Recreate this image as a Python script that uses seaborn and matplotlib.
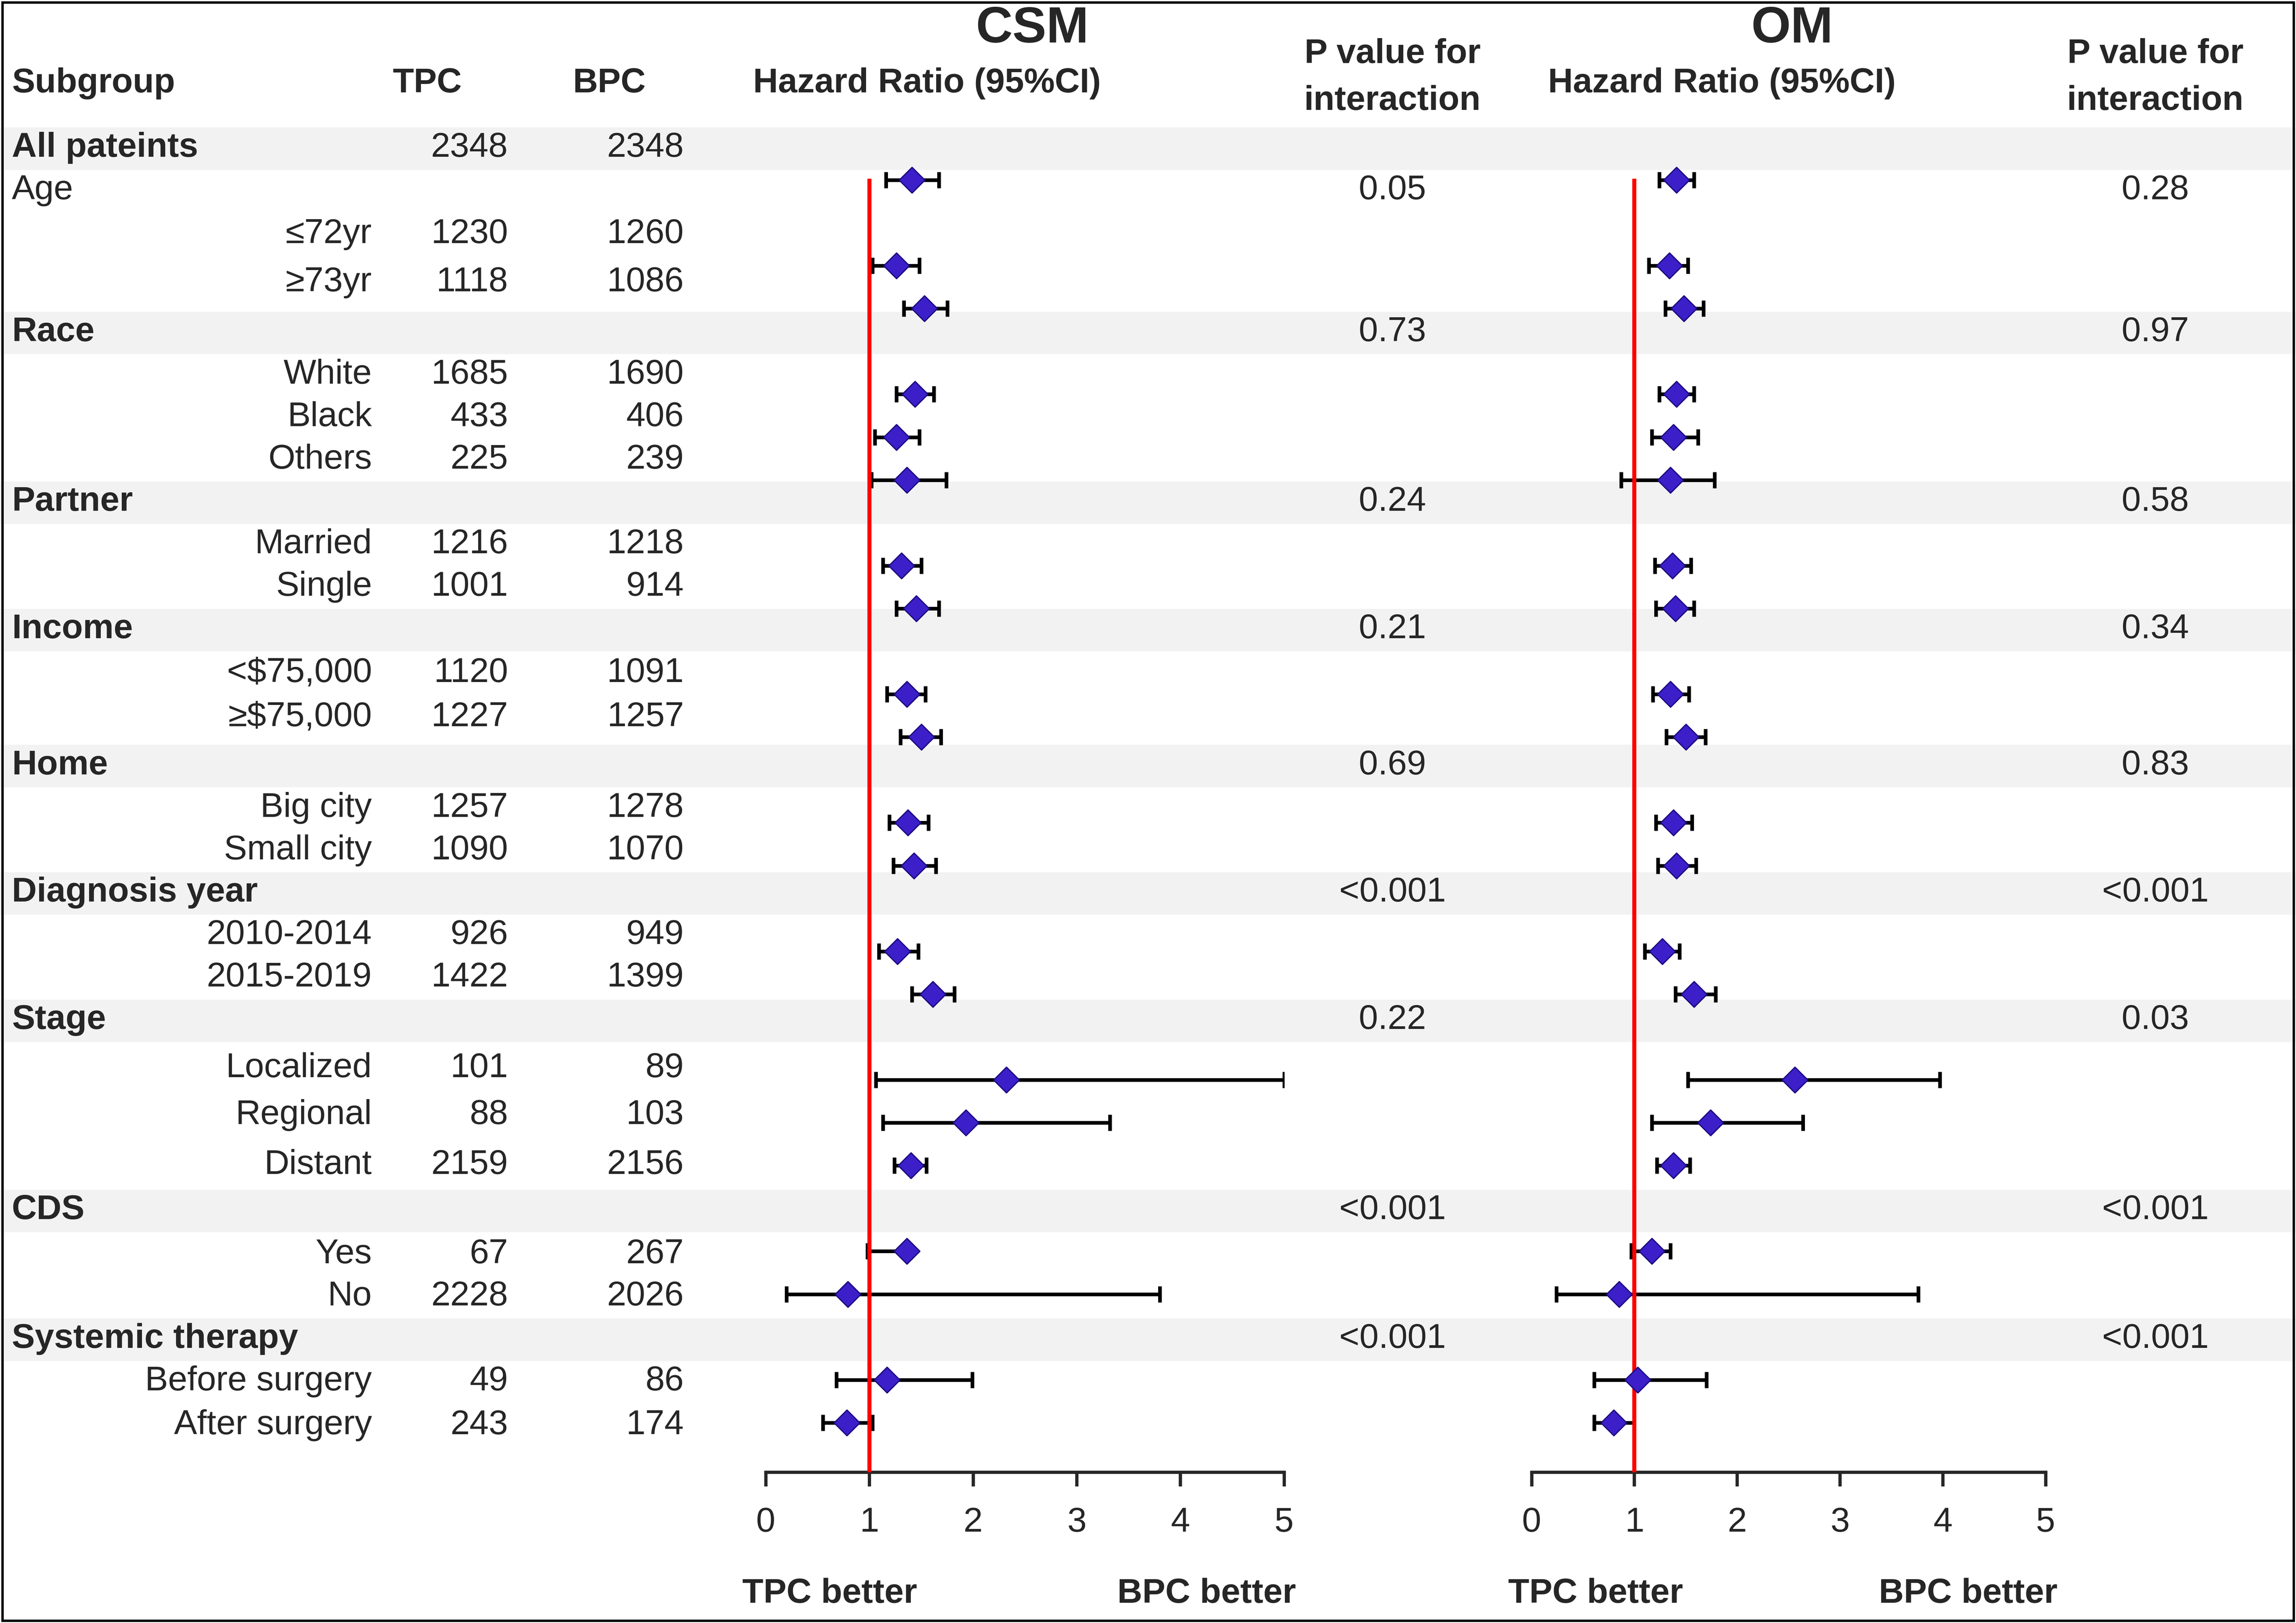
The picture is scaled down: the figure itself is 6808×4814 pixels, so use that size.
import matplotlib
matplotlib.use("Agg")
import matplotlib.pyplot as plt
import numpy as np
import pandas as pd
import seaborn as sns
from matplotlib.patches import Rectangle

sns.set_style("white")
plt.rcParams["font.family"] = ["Liberation Sans", "DejaVu Sans"]

# table rows: (label, is_header, indent, TPC, BPC)
labels = ["All pateints", "Age", "≤72yr", "≥73yr", "Race", "White", "Black", "Others",
          "Partner", "Married", "Single", "Income", "<$75,000", "≥$75,000", "Home",
          "Big city", "Small city", "Diagnosis year", "2010-2014", "2015-2019", "Stage",
          "Localized", "Regional", "Distant", "CDS", "Yes", "No", "Systemic therapy",
          "Before surgery", "After surgery"]
kind = ["head", "plain", "sub", "sub", "head", "sub", "sub", "sub", "head", "sub", "sub",
        "head", "sub", "sub", "head", "sub", "sub", "head", "sub", "sub", "head", "sub",
        "sub", "sub", "head", "sub", "sub", "head", "sub", "sub"]
tpc = ["2348", "", "1230", "1118", "", "1685", "433", "225", "", "1216", "1001", "",
       "1120", "1227", "", "1257", "1090", "", "926", "1422", "", "101", "88", "2159",
       "", "67", "2228", "", "49", "243"]
bpc = ["2348", "", "1260", "1086", "", "1690", "406", "239", "", "1218", "914", "",
       "1091", "1257", "", "1278", "1070", "", "949", "1399", "", "89", "103", "2156",
       "", "267", "2026", "", "86", "174"]
text_y = [101, 130, 160, 193, 227, 256, 285, 314, 343, 372, 401, 430, 460, 490, 523,
          552, 581, 610, 639, 668, 697, 730, 762, 796, 827, 857, 886, 915, 944, 974]

p_rows = ["Age", "Race", "Partner", "Income", "Home", "Diagnosis year", "Stage", "CDS",
          "Systemic therapy"]
p_csm = ["0.05", "0.73", "0.24", "0.21", "0.69", "<0.001", "0.22", "<0.001", "<0.001"]
p_om = ["0.28", "0.97", "0.58", "0.34", "0.83", "<0.001", "0.03", "<0.001", "<0.001"]

# forest rows (index of row where marker sits); headers without markers skipped
hr_rows = [0, 2, 3, 5, 6, 7, 9, 10, 12, 13, 15, 16, 18, 19, 21, 22, 23, 25, 26, 28, 29]
csm_hr = [1.41, 1.26, 1.53, 1.44, 1.26, 1.36, 1.31, 1.45, 1.36, 1.50, 1.37, 1.43, 1.27,
          1.61, 2.32, 1.93, 1.40, 1.36, 0.79, 1.17, 0.78]
csm_lo = [1.16, 1.03, 1.33, 1.26, 1.05, 1.02, 1.13, 1.26, 1.17, 1.30, 1.19, 1.23, 1.09,
          1.41, 1.06, 1.13, 1.24, 0.98, 0.20, 0.68, 0.55]
csm_hi = [1.67, 1.48, 1.75, 1.62, 1.48, 1.74, 1.50, 1.67, 1.54, 1.69, 1.57, 1.64, 1.47,
          1.82, 5.00, 3.32, 1.55, 1.40, 3.80, 1.99, 1.03]
om_hr = [1.41, 1.34, 1.48, 1.41, 1.38, 1.35, 1.37, 1.40, 1.35, 1.50, 1.38, 1.41, 1.27,
         1.58, 2.56, 1.74, 1.38, 1.17, 0.85, 1.03, 0.80]
om_lo = [1.24, 1.14, 1.30, 1.24, 1.17, 0.87, 1.20, 1.21, 1.18, 1.31, 1.21, 1.23, 1.10,
         1.40, 1.52, 1.17, 1.22, 0.97, 0.24, 0.61, 0.61]
om_hi = [1.58, 1.52, 1.67, 1.58, 1.62, 1.78, 1.55, 1.58, 1.53, 1.69, 1.56, 1.60, 1.44,
         1.79, 3.97, 2.64, 1.54, 1.35, 3.76, 1.70, 1.00]

W, H = 1568, 1109
fs = 17
fig = plt.figure(figsize=(6808 / 434, 4814 / 434), dpi=434)
base = fig.add_axes([0, 0, 1, 1])
base.set_xlim(0, W)
base.set_ylim(H, 0)
base.axis("off")
base.add_patch(Rectangle((1.5, 1.5), W - 3, H - 3, fill=False, lw=1.2, ec="black"))

# shaded header bands
for lab, k, y in zip(labels, kind, text_y):
    if k == "head":
        base.add_patch(Rectangle((0, y - 14), W, 29, color="#f2f2f2", zorder=0, lw=0))

# headers
bold = dict(fontweight="bold", fontsize=fs, va="center")
base.text(8, 57, "Subgroup", ha="left", **bold)
base.text(292, 57, "TPC", ha="center", **bold)
base.text(416, 57, "BPC", ha="center", **bold)
for cx, hx, px, title in [(705, 633, 951, "CSM"), (1224, 1176, 1472, "OM")]:
    base.text(cx, 20, title, ha="center", va="center", fontweight="bold", fontsize=25)
    base.text(hx, 57, "Hazard Ratio (95%CI)", ha="center", **bold)
    base.text(px, 37, "P value for", ha="center", **bold)
    base.text(px, 69, "interaction", ha="center", **bold)

# table body
for lab, k, a, b, y in zip(labels, kind, tpc, bpc, text_y):
    if k == "head":
        base.text(8, y, lab, ha="left", va="center", fontsize=fs, fontweight="bold")
    elif k == "plain":
        base.text(8, y, lab, ha="left", va="center", fontsize=fs)
    else:
        base.text(254, y, lab, ha="right", va="center", fontsize=fs)
    base.text(347, y, a, ha="right", va="center", fontsize=fs)
    base.text(467, y, b, ha="right", va="center", fontsize=fs)

for r, a, b in zip(p_rows, p_csm, p_om):
    y = text_y[labels.index(r)]
    base.text(951, y, a, ha="center", va="center", fontsize=fs)
    base.text(1472, y, b, ha="center", va="center", fontsize=fs)

# forest panels
row0, step = 123, 29.28
top_px, bot_px = 108, 1006
for x0, x1, hr, lo, hi in [(523, 877, csm_hr, csm_lo, csm_hi),
                           (1046, 1397, om_hr, om_lo, om_hi)]:
    ax = fig.add_axes([x0 / W, 1 - bot_px / H, (x1 - x0) / W, (bot_px - top_px) / H])
    ax.patch.set_alpha(0)
    df = pd.DataFrame({"row": hr_rows, "hr": hr, "lo": lo, "hi": hi})
    ax.errorbar(df["hr"], df["row"], xerr=[df["hr"] - df["lo"], df["hi"] - df["hr"]],
                fmt="none", ecolor="black", elinewidth=1.8, capsize=4, capthick=1.8)
    ax.vlines(1, (row0 - 1 - row0) / step, (bot_px - row0) / step, color="#ff0000", lw=2,
              zorder=3)
    sns.scatterplot(data=df, x="hr", y="row", marker="D", s=80, color="#3c1fc8",
                    edgecolor="#1a0a80", linewidth=0.6, zorder=4, ax=ax)
    ax.set_xlim(0, 5)
    ax.set_ylim((bot_px - row0) / step, (top_px - row0) / step)
    ax.set_xticks(range(6))
    ax.set_yticks([])
    ax.set_xlabel("")
    ax.set_ylabel("")
    for s in ["top", "right", "left"]:
        ax.spines[s].set_visible(False)
    ax.spines["bottom"].set_linewidth(1.6)
    ax.tick_params(axis="x", direction="out", length=7, width=1.6, labelsize=fs,
                   pad=10, bottom=True)
    base.text(x0 - 16, 1089, "TPC better", ha="left", va="center", fontsize=fs,
              fontweight="bold")
    base.text(x1 + 8, 1089, "BPC better", ha="right", va="center", fontsize=fs,
              fontweight="bold")

fig.savefig("out.png", dpi=434)
